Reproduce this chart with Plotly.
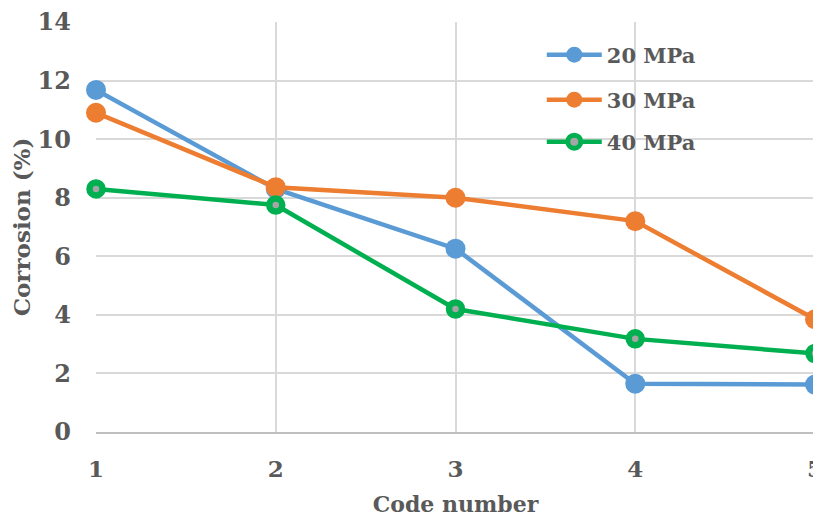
import plotly.graph_objects as go

codes = [1, 2, 3, 4, 5]
s20 = [11.68, 8.3, 6.26, 1.65, 1.62]
s30 = [10.9, 8.36, 8.0, 7.2, 3.85]
s40 = [8.3, 7.75, 4.2, 3.18, 2.68]
names = ["20 MPa", "30 MPa", "40 MPa"]

FONT = "DejaVu Serif"
TXT = "#595959"

def f(sz):
    return dict(family=FONT, size=sz, color=TXT, weight="bold")

fig = go.Figure()
fig.add_trace(go.Scatter(x=codes, y=s20, name=names[0], mode="lines+markers", legend="legend",
                         line=dict(color="#5B9BD5", width=4.5),
                         marker=dict(size=20, color="#5B9BD5"), cliponaxis=False))
fig.add_trace(go.Scatter(x=codes, y=s30, name=names[1], mode="lines+markers", legend="legend2",
                         line=dict(color="#ED7D31", width=4.5),
                         marker=dict(size=20, color="#ED7D31"), cliponaxis=False))
fig.add_trace(go.Scatter(x=codes, y=s40, name=names[2], mode="lines+markers", legend="legend3",
                         line=dict(color="#00B050", width=4.5),
                         marker=dict(size=13, color="#A5A5A5", line=dict(color="#00B050", width=6.5)),
                         cliponaxis=False))

def leg(ypx):
    return dict(x=0.62, y=1 - (ypx - 22) / 410, xanchor="left", yanchor="middle",
                font=f(21), bgcolor="rgba(0,0,0,0)", itemwidth=55, visible=True)

# page body has an 8px offset
fig.update_layout(
    width=821, height=509,
    margin=dict(l=88, r=14, t=14, b=85),
    plot_bgcolor="white", paper_bgcolor="white",
    font=dict(family=FONT, color=TXT, size=18),
    showlegend=True,
    legend=leg(55), legend2=leg(100), legend3=leg(142),
    xaxis=dict(range=[1, 5], tickvals=codes, showgrid=True, gridcolor="#D9D9D9", gridwidth=1.5,
               showline=True, linecolor="#BFBFBF", linewidth=1.5, zeroline=False, automargin=False,
               tickfont=f(23), ticks="", ticklabelstandoff=16, ticklabeloverflow="allow",
               title=dict(text="Code number", font=f(22), standoff=15)),
    yaxis=dict(range=[0, 14], dtick=2, showgrid=True, gridcolor="#D9D9D9", gridwidth=1.5,
               zeroline=False, showline=False, automargin=False,
               tickfont=f(24), ticks="", ticklabelstandoff=24, ticklabeloverflow="allow",
               title=dict(text="Corrosion (%)", font=f(23), standoff=10)),
)
fig.write_html("out.html")
